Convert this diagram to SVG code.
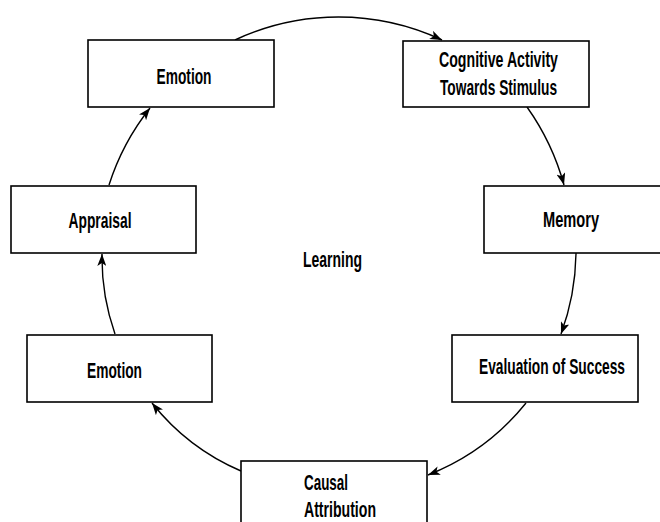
<svg xmlns="http://www.w3.org/2000/svg" width="660" height="522" viewBox="0 0 660 522">
<style>
.box{fill:#fff;stroke:#000;stroke-width:1.6}
.lbl{font-family:"Liberation Sans",Arial,sans-serif;font-size:22px;font-weight:bold;fill:#000;text-anchor:middle}
.start{text-anchor:start}
.edge{fill:none;stroke:#000;stroke-width:1.4;marker-end:url(#arr)}
</style>
<defs>
<marker id="arr" markerUnits="userSpaceOnUse" markerWidth="13" markerHeight="9" refX="12" refY="4.5" orient="auto">
<path d="M0,0 L12,4.5 L0,9 L3,4.5 z" fill="#000"/>
</marker>
</defs>
<rect width="660" height="522" fill="#fff"/>
<g id="connectors">
<path class="edge" d="M235,40 A245,245 0 0 1 442,40"/>
<path class="edge" d="M527,107 A248,248 0 0 1 564,185"/>
<path class="edge" d="M576,253 A242,242 0 0 1 561,334"/>
<path class="edge" d="M526,403 A236,236 0 0 1 428,475"/>
<path class="edge" d="M241,471 A228,228 0 0 1 152,403"/>
<path class="edge" d="M115,334 A230,230 0 0 1 102,254"/>
<path class="edge" d="M109,185 A243,243 0 0 1 150,108"/>
</g>
<g id="emotion-top">
<rect class="box" x="88" y="40" width="186" height="67"/>
<text class="lbl" x="184" y="84" textLength="55" lengthAdjust="spacingAndGlyphs">Emotion</text>
</g>
<g id="cognitive">
<rect class="box" x="403" y="41" width="186" height="66"/>
<text class="lbl" x="498.5" y="67" textLength="119" lengthAdjust="spacingAndGlyphs">Cognitive Activity</text>
<text class="lbl" x="498.5" y="95" textLength="117" lengthAdjust="spacingAndGlyphs">Towards Stimulus</text>
</g>
<g id="memory">
<rect class="box" x="484" y="186" width="186" height="67"/>
<text class="lbl" x="571" y="227" textLength="56" lengthAdjust="spacingAndGlyphs">Memory</text>
</g>
<g id="evaluation">
<rect class="box" x="452" y="335" width="186" height="67"/>
<text class="lbl" x="552" y="374" textLength="146" lengthAdjust="spacingAndGlyphs">Evaluation of Success</text>
</g>
<g id="causal">
<rect class="box" x="241" y="461" width="186" height="70"/>
<text class="lbl start" x="304" y="490" textLength="44" lengthAdjust="spacingAndGlyphs">Causal</text>
<text class="lbl start" x="304" y="517" textLength="72" lengthAdjust="spacingAndGlyphs">Attribution</text>
</g>
<g id="emotion-bottom">
<rect class="box" x="27" y="335" width="185" height="67"/>
<text class="lbl" x="114.5" y="378" textLength="55" lengthAdjust="spacingAndGlyphs">Emotion</text>
</g>
<g id="appraisal">
<rect class="box" x="11" y="186" width="185" height="67"/>
<text class="lbl" x="100" y="228" textLength="63" lengthAdjust="spacingAndGlyphs">Appraisal</text>
</g>
<g id="learning">
<text class="lbl" x="332.5" y="267" textLength="59" lengthAdjust="spacingAndGlyphs">Learning</text>
</g>
</svg>
